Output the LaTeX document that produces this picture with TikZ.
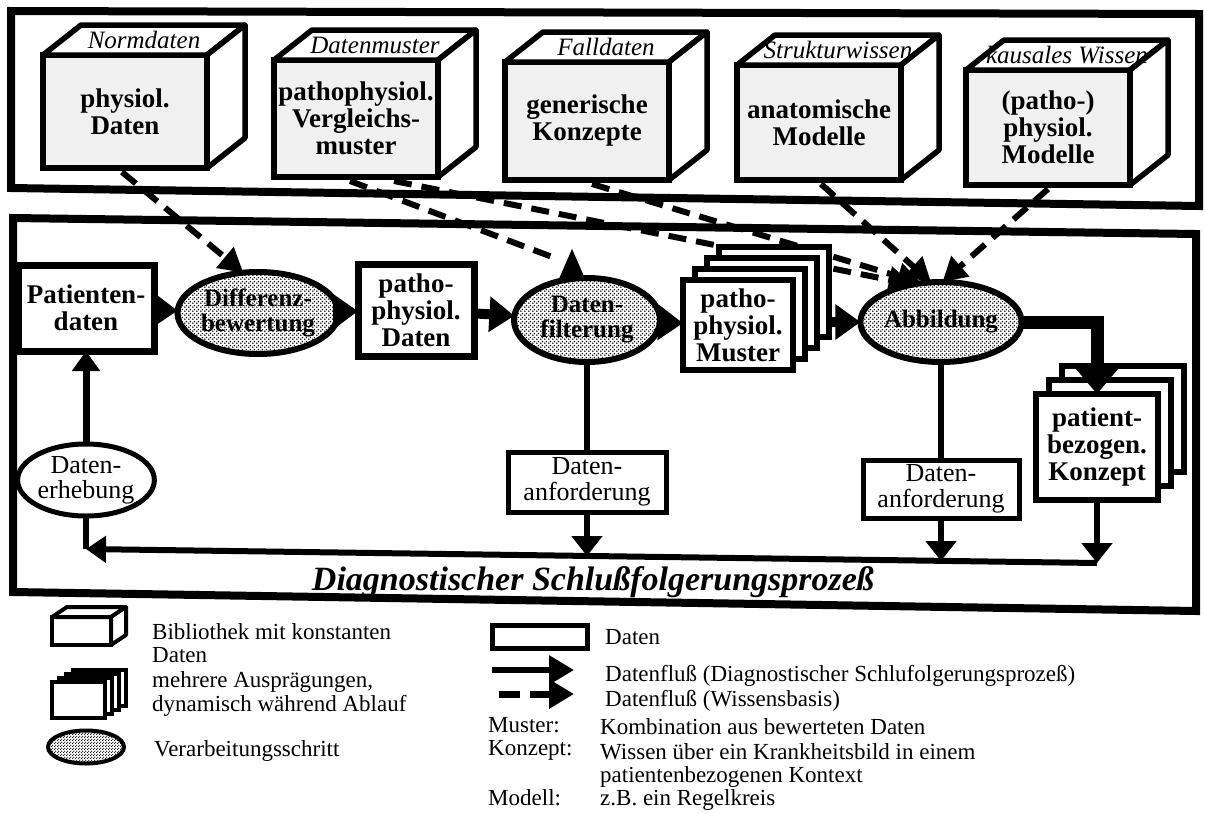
\documentclass[tikz,border=0pt]{standalone}
\usepackage{fontspec}
\setmainfont{Liberation Serif}
\usetikzlibrary{arrows.meta,shapes.geometric,patterns,calc}
\pgfdeclarelayer{background}
\pgfsetlayers{background,main}
\pgfdeclarepatternformonly{stipple}{\pgfpointorigin}{\pgfpoint{4pt}{4pt}}{\pgfpoint{4pt}{4pt}}{%
  \pgfpathcircle{\pgfpoint{1pt}{1pt}}{1pt}%
  \pgfpathcircle{\pgfpoint{3pt}{3pt}}{1pt}%
  \pgfusepath{fill}}
\pgfdeclarepatternformonly{stippledark}{\pgfpointorigin}{\pgfpoint{3pt}{3pt}}{\pgfpoint{3pt}{3pt}}{%
  \pgfpathcircle{\pgfpoint{0.75pt}{0.75pt}}{0.8pt}%
  \pgfpathcircle{\pgfpoint{2.25pt}{2.25pt}}{0.8pt}%
  \pgfusepath{fill}}
\newcommand\setfs[2]{\fontsize{#1}{#2}\selectfont}
\tikzset{
  outerframe/.style={line width=8pt, line join=miter},
  cubeline/.style={line width=5.5pt, line join=round},
  cubefront/.style={draw, line width=5.5pt, fill=black!6, minimum width=164pt, inner sep=0pt, outer sep=0pt, align=center, font=\setfs{27}{27}\bfseries},
  cubelabel/.style={inner sep=0pt, font=\setfs{25}{25}\itshape},
  databox/.style={draw, line width=7pt, fill=white, align=center, inner sep=0pt, outer sep=0pt, font=\setfs{27}{27}\bfseries},
  sheet/.style={draw, line width=6pt, fill=white, inner sep=0pt, outer sep=0pt, align=center, font=\setfs{27}{27}\bfseries},
  proc/.style={ellipse, draw, line width=6pt, preaction={fill=white}, pattern=stipple, inner sep=0pt, outer sep=0pt, align=center, font=\setfs{25}{25}\bfseries},
  plainell/.style={ellipse, draw, line width=5pt, fill=white, inner sep=0pt, outer sep=0pt, align=center, font=\setfs{26}{25}},
  reqbox/.style={draw, line width=5pt, fill=white, inner sep=0pt, outer sep=0pt, align=center, font=\setfs{26}{26}},
  flow/.style={line width=10pt, -{Triangle[length=25pt,width=34pt]}},
  heavy/.style={line width=13pt, line join=miter, -{Triangle[length=26pt,width=42pt]}},
  uparr/.style={line width=7pt, -{Triangle[length=20pt,width=27pt]}},
  thinline/.style={line width=6pt},
  downarr/.style={line width=6pt, -{Triangle[length=20pt,width=30pt]}},
  retline/.style={line width=6pt, -{Triangle[length=20pt,width=26pt]}},
  know/.style={line width=6pt, dash pattern=on 18pt off 10pt, -{Triangle[length=24pt,width=26pt]}},
  knowplain/.style={line width=6pt, dash pattern=on 18pt off 10pt},
  legtext/.style={inner sep=0pt, anchor=west, align=left, font=\setfs{23}{23.5}},
  legline/.style={line width=4pt, line join=round, fill=white},
}
\newcommand\libcube[6]{%
  \node[cubefront, minimum height=#4pt] (#1) at ({#2+82},{#3+#4/2}) {#6};
  \draw[cubeline, fill=white] (#1.north west) -- ++(38,-30) -- ++(164,0) -- (#1.north east) -- cycle;
  \draw[cubeline, fill=white] (#1.north east) -- ++(38,-30) -- ++(0,#4) -- (#1.south east) -- cycle;
  \node[cubelabel] (#1-lab) at ($(#1.north)+(19,-15)$) {#5};}
\begin{document}
\begin{tikzpicture}[x=1pt,y=-1pt]
\useasboundingbox (0,0) rectangle (1205,812);

% knowledge base cubes
\libcube{c1}{43}{55}{113}{Normdaten}{physiol.\\Daten}
\libcube{c2}{274}{60}{117}{Datenmuster}{pathophysiol.\\Vergleichs-\\muster}
\libcube{c3}{505}{62}{118}{Falldaten}{generische\\Konzepte}
\libcube{c4}{737}{65}{115}{Strukturwissen}{anatomische\\Modelle}
\libcube{c5}{966}{70}{115}{kausales Wissen}{(patho-)\\physiol.\\Modelle}

% process nodes
\node[databox, minimum width=136pt, minimum height=86pt] (pd) at (86,308) {Patienten-\\daten};
\node[proc, minimum width=142pt, minimum height=82pt] (db) at (258,313) {Differenz-\\bewertung};
\node[databox, minimum width=116pt, minimum height=92pt] (ppd) at (416,310) {patho-\\physiol.\\Daten};
\node[proc, minimum width=146pt, minimum height=84pt] (df) at (587,320) {Daten-\\filterung};
\node[sheet, minimum width=110pt, minimum height=90pt] (mu-b3) at (774,292) {};
\node[sheet, minimum width=110pt, minimum height=90pt] (mu-b2) at (762,303) {};
\node[sheet, minimum width=110pt, minimum height=90pt] (mu-b1) at (750,314) {};
\node[sheet, minimum width=110pt, minimum height=90pt] (mu) at (738,325) {patho-\\physiol.\\Muster};
\node[proc, minimum width=142pt, minimum height=80pt] (ab) at (941,322) {Abbildung};
\node[sheet, minimum width=122pt, minimum height=106pt] (ko-b2) at (1123,419) {};
\node[sheet, minimum width=122pt, minimum height=106pt] (ko-b1) at (1110,433) {};
\node[sheet, minimum width=122pt, minimum height=106pt] (ko) at (1097,447) {patient-\\bezogen.\\Konzept};
\node[plainell, minimum width=134pt, minimum height=72pt] (de) at (86,480) {Daten-\\erhebung};
\node[reqbox, minimum width=158pt, minimum height=60pt] (da1) at (587,482) {Daten-\\anforderung};
\node[reqbox, minimum width=156pt, minimum height=58pt] (da2) at (941,489) {Daten-\\anforderung};
\node[inner sep=0pt, font=\setfs{34}{34}\bfseries\itshape] (title) at (593,582) {Diagnostischer Schlußfolgerungsprozeß};

\coordinate (ret) at (86,549);
\coordinate (r1) at (587,556);
\coordinate (r2) at (941,561);
\coordinate (r3) at (1097,563);

% white page, frames and knowledge flows (behind)
\begin{pgfonlayer}{background}
\fill[white] (0,0) rectangle (1205,812);
\draw[outerframe] (11,11) -- (1199,14) -- (1199,206) -- (11,188) -- cycle;
\draw[outerframe] (13,218) -- (1196,234) -- (1196,611) -- (13,592) -- cycle;
\draw[know] ($(c1.south)+(-3,4)$) -- (db.110);
\draw[knowplain] ($(c2.south)+(-6,4)$) -- ($(df.110)+(-20,-22)$);
\fill (df.110) ++(-14,2) -- ++(14,-32) -- ++(14,32) -- cycle;
\draw[know] ($(c2.south)+(38,4)$) -- (ab.127);
\draw[know] ($(c3.south)+(5,4)$) -- (ab.117);
\draw[know] ($(c4.south)+(2,4)$) -- (ab.104);
\draw[know] ($(c5.south)+(0,4)$) -- (ab.88);
\end{pgfonlayer}

% process flows
\draw[flow] (pd) -- (db);
\draw[flow] (db) -- (ppd);
\draw[flow] (ppd) -- (df);
\draw[flow] (df) -- (mu);
\draw[flow] (mu-b3.east |- ab) -- (ab);
\draw[heavy] (ab.east) -| (ko.north);
\draw[uparr] (de) -- (pd);
\draw[thinline] (df) -- (da1);
\draw[downarr] (da1) -- (r1);
\draw[thinline] (ab) -- (da2);
\draw[downarr] (da2) -- (r2);
\draw[downarr] (ko) -- (r3);
\draw[retline] (r3) -- (ret);
\draw[thinline] (ret) -- (de);

% legend
\node[draw, line width=4pt, fill=white, minimum width=59pt, minimum height=28pt, inner sep=0pt, outer sep=0pt] (lg-cube) at (81.5,631) {};
\draw[legline] (lg-cube.north west) -- ++(15,-10) -- ++(59,0) -- (lg-cube.north east) -- cycle;
\draw[legline] (lg-cube.north east) -- ++(15,-10) -- ++(0,28) -- (lg-cube.south east) -- cycle;
\node[legtext] (lg-cube-t) at (152,643) {Bibliothek mit konstanten\\Daten};
\foreach \i/\dx/\dy in {3/21/-12, 2/14/-8, 1/7/-4}
  \node[draw, line width=4pt, fill=white, minimum width=53pt, minimum height=36pt, inner sep=0pt] (lg-st\i) at ({78.5+\dx},{700+\dy}) {};
\node[draw, line width=4pt, fill=white, minimum width=53pt, minimum height=36pt, inner sep=0pt] (lg-st) at (78.5,700) {};
\node[legtext] (lg-st-t) at (152,694) {mehrere Ausprägungen,\\dynamisch während Ablauf};
\node[ellipse, draw, line width=4pt, preaction={fill=white}, pattern=stippledark, minimum width=76pt, minimum height=33pt, inner sep=0pt] (lg-proc) at (86,747) {};
\node[legtext] (lg-proc-t) at (154,751) {Verarbeitungsschritt};
\node[draw, line width=5pt, minimum width=95pt, minimum height=23pt, inner sep=0pt] (lg-data) at (540,637) {};
\node[legtext] (lg-data-t) at (605,637) {Daten};
\coordinate (lg-f1a) at (492,670);
\coordinate (lg-f1b) at (574,670);
\draw[line width=6pt, -{Triangle[length=25pt,width=28pt]}] (lg-f1a) -- (lg-f1b);
\node[legtext] (lg-f1-t) at (605,676) {Datenfluß (Diagnostischer Schlufolgerungsprozeß)};
\coordinate (lg-f2a) at (499,694);
\coordinate (lg-f2b) at (574,694);
\draw[line width=7pt, dash pattern=on 21pt off 10pt, -{Triangle[length=25pt,width=28pt]}] (lg-f2a) -- (lg-f2b);
\node[legtext] (lg-f2-t) at (605,701) {Datenfluß (Wissensbasis)};
\node[legtext] (lg-m) at (488,725) {Muster:};
\node[legtext] (lg-k) at (488,750) {Konzept:};
\node[legtext] (lg-mo) at (488,798) {Modell:};
\node[legtext] (lg-m-t) at (600,727) {Kombination aus bewerteten Daten};
\node[legtext, font=\setfs{23}{23}] (lg-k-t) at (600,765) {Wissen über ein Krankheitsbild in einem\\patientenbezogenen Kontext};
\node[legtext] (lg-mo-t) at (600,800) {z.B. ein Regelkreis};
\end{tikzpicture}
\end{document}
